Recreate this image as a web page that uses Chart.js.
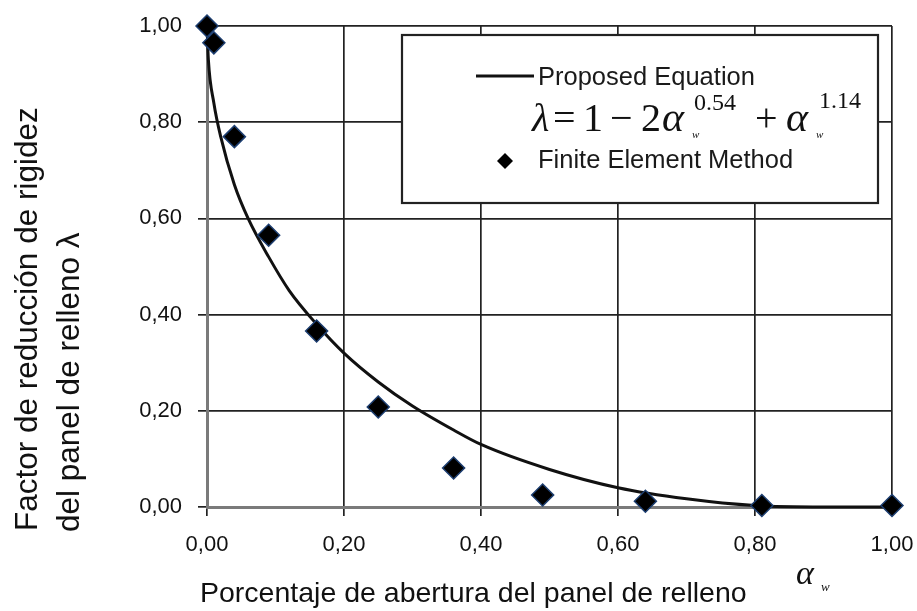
<!DOCTYPE html>
<html><head><meta charset="utf-8">
<script src="https://cdn.jsdelivr.net/npm/chart.js@4"></script>
<style>html,body{margin:0;padding:0;background:#fff;}#wrap{width:917px;height:611px;}</style>
</head><body><div id="wrap"><canvas id="c" width="917" height="611"></canvas></div>
<script>
// Finite Element Method points
const femX = [0.00, 0.01, 0.04, 0.09, 0.16, 0.25, 0.36, 0.49, 0.64, 0.81, 1.00];
const femY = [1.00, 0.965, 0.77, 0.565, 0.366, 0.208, 0.081, 0.025, 0.012, 0.003, 0.003];
// Proposed equation curve
const curveX = [0.00, 0.002, 0.01, 0.02, 0.04, 0.06, 0.09, 0.12, 0.16, 0.20, 0.25, 0.30, 0.36, 0.40, 0.50, 0.60, 0.70, 0.80, 0.90, 1.00];
const curveY = [1.00, 0.93, 0.84, 0.77, 0.67, 0.60, 0.52, 0.45, 0.38, 0.32, 0.26, 0.21, 0.16, 0.13, 0.078, 0.040, 0.017, 0.003, 0.000, 0.000];
const xTickLabels = ['0,00', '0,20', '0,40', '0,60', '0,80', '1,00'];
const yTickLabels = ['0,00', '0,20', '0,40', '0,60', '0,80', '1,00'];
const legendLabels = ['Proposed Equation', 'Finite Element Method'];
const xTitle = 'Porcentaje de abertura del panel de relleno';
const yTitleLines = ['Factor de reducción de rigidez', 'del panel de relleno λ'];

const SANS = '"Liberation Sans", Arial, sans-serif';
const SERIF = '"Liberation Serif", "Times New Roman", serif';

const overlay = {
  id: 'overlay',
  afterDraw(chart) {
    const ctx = chart.ctx;
    ctx.save();
    // Y axis title (rotated)
    ctx.fillStyle = '#111';
    ctx.font = '31.5px ' + SANS;
    ctx.textAlign = 'left';
    ctx.textBaseline = 'alphabetic';
    ctx.save(); ctx.translate(37, 531); ctx.rotate(-Math.PI / 2); ctx.fillText(yTitleLines[0], 0, 0); ctx.restore();
    ctx.save(); ctx.translate(79, 532); ctx.rotate(-Math.PI / 2); ctx.fillText(yTitleLines[1], 0, 0); ctx.restore();
    // X axis title
    ctx.font = '28.5px ' + SANS;
    ctx.fillText(xTitle, 200, 602);
    ctx.font = 'italic 34px ' + SERIF;
    ctx.fillText('α', 796, 584);
    ctx.font = 'italic 13px ' + SERIF;
    ctx.fillText('w', 821, 591);

    // Legend box
    const bx = 402, by = 35, bw = 476, bh = 168;
    ctx.fillStyle = '#fff';
    ctx.fillRect(bx, by, bw, bh);
    ctx.strokeStyle = '#222';
    ctx.lineWidth = 2.2;
    ctx.strokeRect(bx, by, bw, bh);
    // line sample
    ctx.beginPath(); ctx.moveTo(476, 76); ctx.lineTo(534, 76); ctx.lineWidth = 3; ctx.strokeStyle = '#111'; ctx.stroke();
    ctx.fillStyle = '#1a1a1a';
    ctx.font = '25.5px ' + SANS;
    ctx.fillText(legendLabels[0], 538, 85);
    ctx.fillText(legendLabels[1], 538, 168);
    // diamond sample
    ctx.beginPath();
    ctx.moveTo(505, 153); ctx.lineTo(513, 161); ctx.lineTo(505, 169); ctx.lineTo(497, 161); ctx.closePath();
    ctx.fillStyle = '#000'; ctx.fill();
    // equation
    ctx.fillStyle = '#111';
    ctx.font = 'italic 40px ' + SERIF;
    ctx.fillText('λ', 532, 131);
    ctx.font = '40px ' + SERIF;
    ctx.fillText('=', 553, 131);
    ctx.fillText('1', 583, 131);
    ctx.fillText('−', 610, 131);
    ctx.fillText('2', 641, 131);
    ctx.font = 'italic 42px ' + SERIF;
    ctx.fillText('α', 662, 131);
    ctx.font = '24px ' + SERIF;
    ctx.fillText('0.54', 694, 110);
    ctx.font = '40px ' + SERIF;
    ctx.fillText('+', 755, 131);
    ctx.font = 'italic 42px ' + SERIF;
    ctx.fillText('α', 786, 131);
    ctx.font = '24px ' + SERIF;
    ctx.fillText('1.14', 819, 108);
    ctx.font = 'italic 11px ' + SERIF;
    ctx.fillText('w', 692, 138);
    ctx.fillText('w', 816, 138);
    ctx.restore();
  }
};

new Chart(document.getElementById('c'), {
  type: 'scatter',
  data: {
    datasets: [
      {
        type: 'line',
        label: legendLabels[0],
        data: curveX.map((x, i) => ({ x: x, y: curveY[i] })),
        borderColor: '#111',
        borderWidth: 3,
        pointRadius: 0,
        fill: false,
        clip: false,
        cubicInterpolationMode: 'monotone',
        order: 2
      },
      {
        label: legendLabels[1],
        data: femX.map((x, i) => ({ x: x, y: femY[i] })),
        pointStyle: 'rectRot',
        pointRadius: 11,
        backgroundColor: '#000',
        borderColor: '#1d3e70',
        borderWidth: 1.5,
        clip: false,
        order: 1
      }
    ]
  },
  options: {
    responsive: false,
    animation: false,
    devicePixelRatio: 1,
    layout: { padding: { top: 26, right: 25, left: 0, bottom: 0 } },
    plugins: { legend: { display: false }, tooltip: { enabled: false } },
    scales: {
      x: {
        type: 'linear', min: 0, max: 1,
        afterFit: s => { s.height = 104; s.paddingLeft = 0; s.paddingRight = 0; },
        ticks: {
          stepSize: 0.2, padding: 16, color: '#111',
          font: { family: SANS, size: 22 },
          callback: v => xTickLabels[Math.round(v / 0.2)]
        },
        grid: { color: '#222', lineWidth: 1.7, tickLength: 9, tickColor: '#222' },
        border: { display: true, color: '#7a7a7a', width: 3 }
      },
      y: {
        type: 'linear', min: 0, max: 1,
        afterFit: s => { s.width = 207; s.paddingTop = 0; s.paddingBottom = 0; },
        ticks: {
          stepSize: 0.2, padding: 16, color: '#111',
          font: { family: SANS, size: 22 },
          callback: v => yTickLabels[Math.round(v / 0.2)]
        },
        grid: { color: '#222', lineWidth: 1.7, tickLength: 9, tickColor: '#222' },
        border: { display: true, color: '#7a7a7a', width: 3 }
      }
    }
  },
  plugins: [overlay]
});
</script>
</body></html>
